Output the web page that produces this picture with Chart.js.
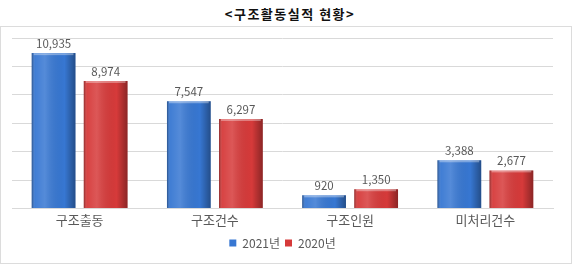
<!DOCTYPE html>
<html>
<head>
<meta charset="utf-8">
<script src="https://cdn.jsdelivr.net/npm/chart.js@4"></script>
<style>
  body { margin: 0; background: #fff; width: 580px; height: 265px; position: relative; overflow: hidden; }
  #title { position: absolute; left: 0; top: 4px; width: 580px; text-align: center;
    font: bold 13px "Noto Sans CJK KR", sans-serif; color: #111; letter-spacing: 1.5px; }
  #box { position: absolute; left: 0; top: 26px; width: 570px; height: 236px; border: 1px solid #dcdcdc; }
</style>
</head>
<body>
<div id="title">&lt;구조활동실적 현황&gt;</div>
<div id="box"><canvas id="chart" width="570" height="236"></canvas></div>
<script>
const categories = ['구조출동', '구조건수', '구조인원', '미처리건수'];
const values2021 = [10935, 7547, 920, 3388];
const values2020 = [8974, 6297, 1350, 2677];
const seriesNames = ['2021년', '2020년'];

const FONT = '"Noto Sans CJK KR", "Noto Sans", sans-serif';

// glossy highlight over each bar
const shine = {
  id: 'shine',
  afterDatasetsDraw(chart) {
    const c = chart.ctx;
    chart.data.datasets.forEach((ds, i) => {
      chart.getDatasetMeta(i).data.forEach(bar => {
        const l = bar.x - bar.width / 2, r = bar.x + bar.width / 2;
        const g = c.createLinearGradient(l, 0, r, 0);
        g.addColorStop(0, 'rgba(0,0,0,0.35)');
        g.addColorStop(0.08, 'rgba(255,255,255,0.05)');
        g.addColorStop(0.3, 'rgba(255,255,255,0.15)');
        g.addColorStop(0.75, 'rgba(0,0,0,0.0)');
        g.addColorStop(1, 'rgba(0,0,0,0.35)');
        c.save();
        c.fillStyle = g;
        c.fillRect(l, bar.y, bar.width, bar.base - bar.y);
        c.fillStyle = 'rgba(255,255,255,0.35)';
        c.fillRect(l + 2, bar.y, bar.width - 4, 2);
        c.restore();
      });
    });
  }
};

const valueLabels = {
  id: 'valueLabels',
  afterDatasetsDraw(chart) {
    const c = chart.ctx;
    c.save();
    c.font = '11.5px ' + FONT;
    c.fillStyle = '#595959';
    c.textAlign = 'center';
    c.textBaseline = 'bottom';
    chart.data.datasets.forEach((ds, i) => {
      chart.getDatasetMeta(i).data.forEach((bar, j) => {
        c.fillText(ds.data[j].toLocaleString('en-US'), bar.x, bar.y - 4);
      });
    });
    c.restore();
  }
};

new Chart(document.getElementById('chart'), {
  type: 'bar',
  data: {
    labels: categories,
    datasets: [{
      label: seriesNames[0],
      data: values2021,
      backgroundColor: '#3777d2',
      categoryPercentage: 0.77,
      barPercentage: 0.84
    }, {
      label: seriesNames[1],
      data: values2020,
      backgroundColor: '#d63a3a',
      categoryPercentage: 0.77,
      barPercentage: 0.84
    }]
  },
  options: {
    responsive: false,
    animation: false,
    layout: { padding: { left: 11, right: 18, top: 11, bottom: 4 } },
    scales: {
      x: {
        grid: { display: false, drawTicks: false },
        border: { color: '#d9d9d9' },
        ticks: { color: '#595959', font: { family: FONT, size: 13 }, padding: 4 }
      },
      y: {
        min: 0,
        max: 12000,
        ticks: { display: false, stepSize: 2000 },
        grid: { color: '#d9d9d9', drawTicks: false },
        border: { display: false }
      }
    },
    plugins: {
      legend: {
        position: 'bottom',
        labels: { boxWidth: 7, boxHeight: 7, padding: 5, color: '#595959', font: { family: FONT, size: 12 } }
      },
      tooltip: { enabled: false }
    }
  },
  plugins: [shine, valueLabels]
});
</script>
</body>
</html>
